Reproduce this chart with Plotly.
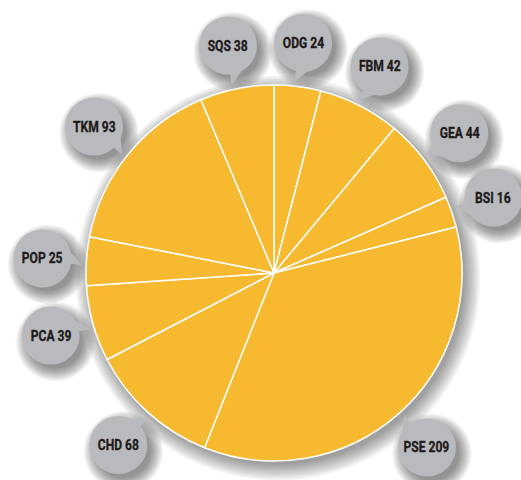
import math
import plotly.graph_objects as go

# ---- data ----
labels = ["ODG", "FBM", "GEA", "BSI", "PSE", "CHD", "PCA", "POP", "TKM", "SQS"]
values = [24, 42, 44, 16, 209, 68, 39, 25, 93, 38]

# ---- style / geometry ----
W, H = 521, 480
CX, CY, R = 274, 273, 188          # pie centre / radius in pixels
BUB_DIST, BUB_R = 232, 29           # callout distance from centre, bubble radius
PIE_COLOR = "#F6B930"
BUB_COLOR = "#B9BABD"
TXT_COLOR = "#1E1A1B"
FONT = "Roboto, Liberation Sans, sans-serif"

fig = go.Figure()
fig.add_trace(go.Pie(
    labels=labels, values=values, sort=False, direction="clockwise", rotation=0,
    marker=dict(colors=[PIE_COLOR] * len(values), line=dict(color="white", width=1.5)),
    textinfo="none", hoverinfo="label+value", showlegend=False,
    domain=dict(x=[(CX - R) / W, (CX + R) / W], y=[1 - (CY + R) / H, 1 - (CY - R) / H]),
))
# invisible pixel-scale axes for the callouts
fig.add_trace(go.Scatter(x=[0, W], y=[0, H], mode="markers", marker=dict(opacity=0),
                         hoverinfo="skip", showlegend=False))

shapes, annotations = [], []

# pie shadow
for i in range(10):
    r = R - 1 + i * 1.7
    shapes.append(dict(type="circle", xref="x", yref="y", layer="below",
                       x0=CX + 4 - r, x1=CX + 4 + r, y0=CY + 5 - r, y1=CY + 5 + r,
                       fillcolor="rgba(0,0,0,0.045)", line=dict(width=0)))

total = sum(values)
cum = 0
for lab, v in zip(labels, values):
    mid = (cum + v / 2) / total * 2 * math.pi
    cum += v
    bx = CX + BUB_DIST * math.sin(mid)
    by = CY - BUB_DIST * math.cos(mid)
    # shadow
    for i in range(10):
        r = BUB_R - 2 + i * 1.4
        shapes.append(dict(type="circle", xref="x", yref="y", layer="below",
                           x0=bx + 5 - r, x1=bx + 5 + r, y0=by + 6 - r, y1=by + 6 + r,
                           fillcolor="rgba(0,0,0,0.05)", line=dict(width=0)))
    # bubble
    shapes.append(dict(type="circle", xref="x", yref="y", layer="above",
                       x0=bx - BUB_R, x1=bx + BUB_R, y0=by - BUB_R, y1=by + BUB_R,
                       fillcolor=BUB_COLOR, line=dict(width=0)))
    # tail pointing to pie centre
    ang = math.atan2(CY - by, CX - bx)
    a1, a2 = ang - math.radians(32), ang + math.radians(8)
    at = ang + math.radians(6)
    p1 = (bx + (BUB_R - 3) * math.cos(a1), by + (BUB_R - 3) * math.sin(a1))
    p2 = (bx + (BUB_R - 3) * math.cos(a2), by + (BUB_R - 3) * math.sin(a2))
    pt = (bx + (BUB_R + 11) * math.cos(at), by + (BUB_R + 11) * math.sin(at))
    shapes.append(dict(type="path", xref="x", yref="y", layer="above",
                       path=f"M {p1[0]:.1f} {p1[1]:.1f} L {pt[0]:.1f} {pt[1]:.1f} L {p2[0]:.1f} {p2[1]:.1f} Z",
                       fillcolor=BUB_COLOR, line=dict(width=0)))
    annotations.append(dict(x=bx, y=by, xref="x", yref="y", text=f"<b>{lab} {v}</b>",
                            showarrow=False, font=dict(family=FONT, size=15.5, color=TXT_COLOR)))

fig.update_layout(
    width=W, height=H, margin=dict(l=0, r=0, t=0, b=0),
    paper_bgcolor="white", plot_bgcolor="white",
    xaxis=dict(range=[0, W], visible=False, fixedrange=True),
    yaxis=dict(range=[H, 0], visible=False, fixedrange=True),
    shapes=shapes, annotations=annotations,
)

post = """
document.body.style.margin='0';
document.querySelectorAll('text.annotation-text').forEach(function(t){
  var x = parseFloat(t.getAttribute('x')) || 0;
  t.setAttribute('transform','translate('+x+',0) scale(0.78,1) translate('+(-x)+',0)');
  t.style.strokeWidth='0.35px';
  t.style.stroke='#1E1A1B';
});
"""
fig.write_html("out.html", post_script=post, config={"displayModeBar": False})
